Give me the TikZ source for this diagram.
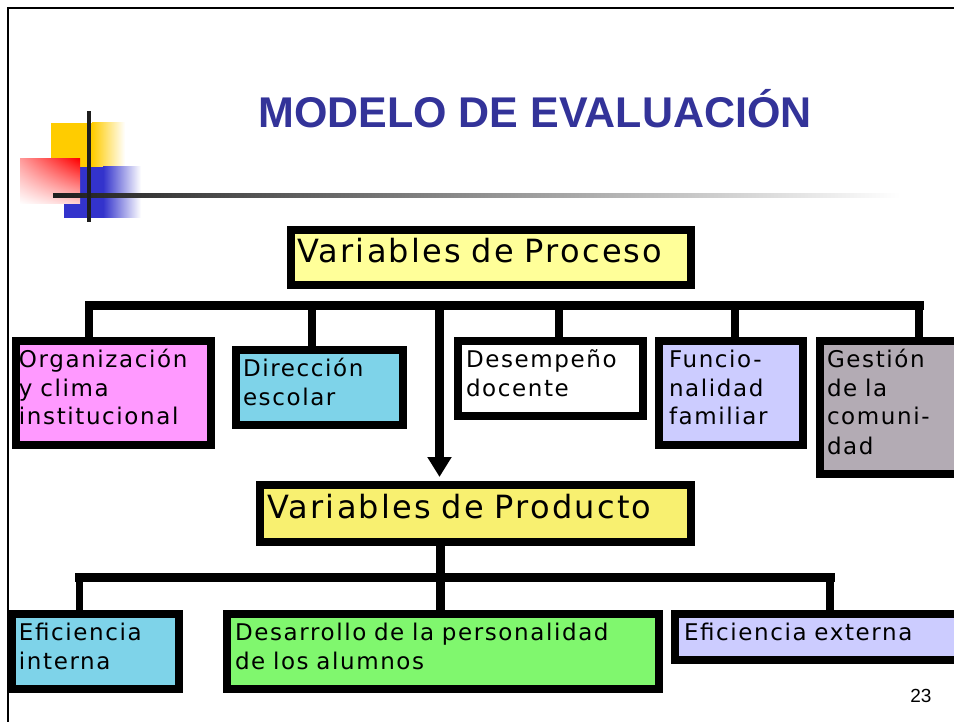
\documentclass[tikz,border=0pt]{standalone}
\usepackage{fontspec}
\usetikzlibrary{arrows.meta,shadings}
\newfontfamily\lblfamily{DejaVu Sans}[LetterSpace=7]
\newfontfamily\bigfamily{DejaVu Sans}[LetterSpace=7]
\newfontfamily\ttlfamily{Liberation Sans}
\newcommand\lblfont{\lblfamily\fontsize{23pt}{29pt}\selectfont}
\newcommand\bigfont{\bigfamily\fontsize{32pt}{36pt}\selectfont}
\definecolor{titleblue}{HTML}{333399}
\definecolor{procfill}{HTML}{FFFF99}
\definecolor{prodfill}{HTML}{F8F070}
\definecolor{pinkfill}{HTML}{FF99FF}
\definecolor{cyanfill}{HTML}{7ED3E9}
\definecolor{lilacfill}{HTML}{CCCCFF}
\definecolor{greyfill}{HTML}{B3ABB4}
\definecolor{greenfill}{HTML}{80F76E}
\definecolor{logoyellow}{HTML}{FFCC00}
\definecolor{logoblue}{HTML}{3333CC}
\definecolor{logored}{HTML}{FF0000}
\definecolor{logopink}{HTML}{FF9C9C}
\definecolor{logoline}{HTML}{1E1E1E}

\tikzset{
  varbox/.style={draw, line width=8pt, anchor=north west, inner xsep=8pt, inner ysep=0pt,
    text height=26pt, align=left, font=\lblfont},
  mainbox/.style={varbox, text height=33pt, font=\bigfont},
  ttl/.style={anchor=base, text=titleblue, font=\ttlfamily\bfseries\fontsize{43pt}{50pt}\selectfont},
  bar/.style={line width=9pt},
  drop/.style={line width=7.5pt},
}

\begin{document}
\begin{tikzpicture}[x=1pt,y=-1pt,>={Triangle[width=23pt,length=20pt]}]
  \useasboundingbox (0,0) rectangle (954,722);

  \fill[logoyellow] (51,123) rectangle (92,167);
  \shade[left color=logoyellow, right color=white] (92,123) rectangle (125,167);
  \fill[logoblue] (64,167) rectangle (103,218);
  \shade[left color=logoblue, right color=white] (103,167) rectangle (141,218);
  \shade[upper left=logopink, upper right=logored, lower left=white, lower right=logopink!45]
    (20,159) rectangle (80,204);
  \shade[left color=logoline, right color=white] (53,194) rectangle (900,198);
  \fill[logoline] (87,111) rectangle (91,222);

  \draw[line width=2pt] (8,722) -- (8,8) -- (954,8);

  \node[ttl] (title) at (535,127.5) {MODELO DE EVALUACIÓN};

  \begin{scope}
  \clip (9,0) rectangle (954,722);
  \node[mainbox, fill=procfill, text width=388pt, text depth=22pt, inner xsep=6pt] (proc) at (287,226) {Variables de Proceso};
  \node[mainbox, fill=prodfill, text width=417pt, text depth=24pt, inner xsep=7pt] (prod) at (256,481) {Variables de Producto};

  \node[varbox, fill=pinkfill, text width=189pt, text depth=78pt, inner xsep=3pt] (org) at (12,337) {Organización\\y clima\\institucional};
  \node[varbox, fill=cyanfill, text width=153pt, text depth=49pt, inner xsep=7pt] (dir) at (232,346) {Dirección\\escolar};
  \node[varbox, fill=white, text width=169pt, text depth=49pt] (des) at (454,337) {Desempeño\\docente};
  \node[varbox, fill=lilacfill, text width=124pt, text depth=78pt, inner xsep=10pt] (fun) at (655,337) {Funcio-\\nalidad\\familiar};
  \node[varbox, fill=greyfill, text width=130pt, text depth=107pt, inner xsep=7pt] (ges) at (816,337) {Gestión\\de la\\comuni-\\dad};

  \node[varbox, fill=cyanfill, text width=153pt, text depth=49pt, inner xsep=7pt] (efi) at (8,610) {Eficiencia\\interna};
  \node[varbox, fill=greenfill, text width=416pt, text depth=49pt] (dev) at (223,610) {Desarrollo de la personalidad\\de los alumnos};
  \node[varbox, fill=lilacfill, text width=271pt, text depth=20pt, inner xsep=9pt] (efe) at (671,610) {Eficiencia externa};
  \end{scope}

  \coordinate (p1) at (89,305.5);
  \coordinate (p2) at (312,305.5);
  \coordinate (p3) at (439.5,305.5);
  \coordinate (p4) at (559,305.5);
  \coordinate (p5) at (735,305.5);
  \coordinate (p6) at (919,305.5);
  \draw[bar, line cap=rect] (p1) -- (p6);
  \foreach \p/\b in {p1/org, p2/dir, p4/des, p5/fun, p6/ges}
    \draw[drop] (\p) -- (\p |- \b.north);
  \draw[bar, ->, shorten >=4pt] (p3) -- (p3 |- prod.north);

  \coordinate (q1) at (79.5,577.5);
  \coordinate (q2) at (440,577.5);
  \coordinate (q3) at (830,577.5);
  \draw[bar, line cap=rect] (q1) -- (q3);
  \draw[bar] (q2 |- prod.south) -- (q2 |- dev.north);
  \foreach \q/\b in {q1/efi, q3/efe}
    \draw[drop] (\q) -- (\q |- \b.north);

  \node[anchor=base east, font=\ttlfamily\fontsize{19pt}{20pt}\selectfont] (pnum) at (935,702) {23};
\end{tikzpicture}
\end{document}
